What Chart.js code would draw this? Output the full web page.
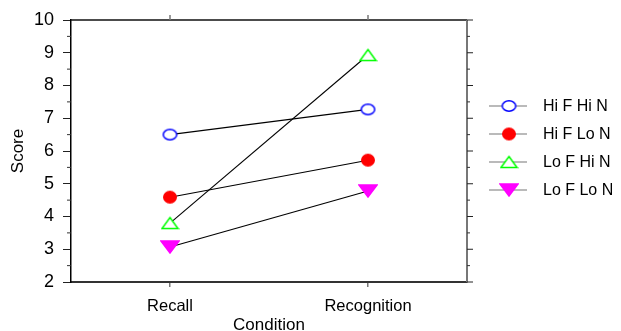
<!DOCTYPE html>
<html>
<head>
<meta charset="utf-8">
<script src="https://cdn.jsdelivr.net/npm/chart.js@4.4.1/dist/chart.umd.min.js"></script>
<style>
  html, body { margin: 0; padding: 0; background: #fff; overflow: hidden; }
  #wrap { width: 621px; height: 331px; position: relative; }
</style>
</head>
<body>
<div id="wrap"><canvas id="c" width="621" height="331"></canvas></div>
<script>
const categories = ["Recall", "Recognition"];
const seriesNames = ["Hi F Hi N", "Hi F Lo N", "Lo F Hi N", "Lo F Lo N"];
const hiFHiN = [6.5, 7.27];
const hiFLoN = [4.59, 5.72];
const loFHiN = [3.8, 8.93];
const loFLoN = [3.07, 4.78];
const yTicks = [2, 3, 4, 5, 6, 7, 8, 9, 10];

const FONT = "'Liberation Sans', Arial, sans-serif";

function makeMarker(kind, w, h, fill, stroke) {
  const c = document.createElement('canvas');
  c.width = w + 2; c.height = h + 2;
  const g = c.getContext('2d');
  g.lineWidth = 1.5;
  g.fillStyle = fill; g.strokeStyle = stroke;
  const cx = c.width / 2, cy = c.height / 2;
  g.beginPath();
  if (kind === 'ellipse') {
    g.ellipse(cx, cy, w / 2 - 0.75, h / 2 - 0.75, 0, 0, Math.PI * 2);
  } else if (kind === 'up') {
    g.moveTo(cx, 1.5); g.lineTo(c.width - 1.5, c.height - 1.5); g.lineTo(1.5, c.height - 1.5); g.closePath();
  } else {
    g.moveTo(1, 1); g.lineTo(c.width - 1, 1); g.lineTo(cx, c.height - 1); g.closePath();
  }
  g.fill(); g.stroke();
  return c;
}

const markerImgs = [
  makeMarker('ellipse', 15, 12, '#ffffff', '#0000ff'),
  makeMarker('ellipse', 14, 13, '#ff0000', '#ff0000'),
  makeMarker('up', 17, 12, '#ffffff', '#00ff00'),
  makeMarker('down', 18, 12, '#ff00ff', '#ff00ff')
];
const values = [hiFHiN, hiFLoN, loFHiN, loFLoN];

const datasets = values.map((v, i) => ({
  label: seriesNames[i],
  data: v,
  borderColor: '#000000',
  borderWidth: 1.1,
  pointStyle: markerImgs[i],
  pointRadius: 8,
  pointHoverRadius: 8,
  tension: 0,
  fill: false
}));

const framePlugin = {
  id: 'frame',
  afterDraw(chart) {
    const ctx = chart.ctx;
    const a = chart.chartArea;
    const xs = chart.scales.x, ys = chart.scales.y;
    ctx.save();
    ctx.strokeStyle = '#111';
    ctx.lineWidth = 1.5;
    ctx.beginPath();
    ctx.moveTo(a.left, a.top); ctx.lineTo(a.right, a.top);
    ctx.stroke();
    ctx.strokeStyle = '#777';
    ctx.lineWidth = 2;
    ctx.beginPath();
    ctx.moveTo(a.right, a.top); ctx.lineTo(a.right, a.bottom);
    ctx.stroke();
    ctx.strokeStyle = '#777';
    ctx.lineWidth = 1.5;
    categories.forEach((c, i) => {
      const x = xs.getPixelForValue(i);
      ctx.beginPath(); ctx.moveTo(x, a.top); ctx.lineTo(x, a.top - 5); ctx.stroke();
    });
    ctx.lineWidth = 1;
    for (let k = 0; k < yTicks.length - 1; k++) {
      const mv = yTicks[k] + 0.5;
      const y = ys.getPixelForValue(mv);
      ctx.strokeStyle = '#333';
      ctx.beginPath(); ctx.moveTo(a.left, y); ctx.lineTo(a.left - 4, y); ctx.stroke();
      ctx.beginPath(); ctx.moveTo(a.right, y); ctx.lineTo(a.right + 3, y); ctx.stroke();
    }
    yTicks.forEach(v => {
      const y = ys.getPixelForValue(v);
      ctx.strokeStyle = '#222';
      ctx.beginPath(); ctx.moveTo(a.right, y); ctx.lineTo(a.right + 6, y); ctx.stroke();
    });
    const lx0 = 489, lx1 = 527, mx = 509, tx = 543;
    const ly = [106, 134, 162, 190];
    ctx.font = '16px ' + FONT;
    ctx.textBaseline = 'middle';
    ctx.textAlign = 'left';
    chart.data.datasets.forEach((ds, i) => {
      const y = ly[i];
      ctx.strokeStyle = '#777';
      ctx.lineWidth = 1.2;
      ctx.beginPath(); ctx.moveTo(lx0, y); ctx.lineTo(lx1, y); ctx.stroke();
      const img = ds.pointStyle;
      ctx.drawImage(img, mx - img.width / 2, y - img.height / 2);
      ctx.fillStyle = '#000';
      ctx.fillText(ds.label, tx, y + 1);
    });
    ctx.restore();
  }
};

new Chart(document.getElementById('c'), {
  type: 'line',
  data: { labels: categories, datasets: datasets },
  options: {
    responsive: false,
    animation: false,
    devicePixelRatio: 1,
    layout: { padding: { left: 0, right: 154, top: 20, bottom: 0 } },
    plugins: { legend: { display: false }, tooltip: { enabled: false } },
    scales: {
      x: {
        type: 'category',
        offset: true,
        grid: { drawOnChartArea: false, drawTicks: true, tickLength: 5, color: '#777', lineWidth: 1.5 },
        border: { display: true, color: '#333', width: 2 },
        ticks: { color: '#000', font: { family: FONT, size: 16.5 }, padding: 10, maxRotation: 0 },
        title: { display: true, text: 'Condition', color: '#000', font: { family: FONT, size: 17 }, padding: { top: 0, bottom: -5 } },
        afterFit(s) { s.height = 49; }
      },
      y: {
        min: 2, max: 10,
        afterBuildTicks(s) { s.ticks = yTicks.map(v => ({ value: v })); },
        grid: { drawOnChartArea: false, drawTicks: true, tickLength: 8, color: '#222', lineWidth: 1 },
        border: { display: true, color: '#000', width: 1.5 },
        ticks: { color: '#000', font: { family: FONT, size: 18 }, padding: 9 },
        title: { display: true, text: 'Score', color: '#000', font: { family: FONT, size: 17 }, padding: { top: 8, bottom: 0 } },
        afterFit(s) { s.width = 71; }
      }
    }
  },
  plugins: [framePlugin]
});
</script>
</body>
</html>
